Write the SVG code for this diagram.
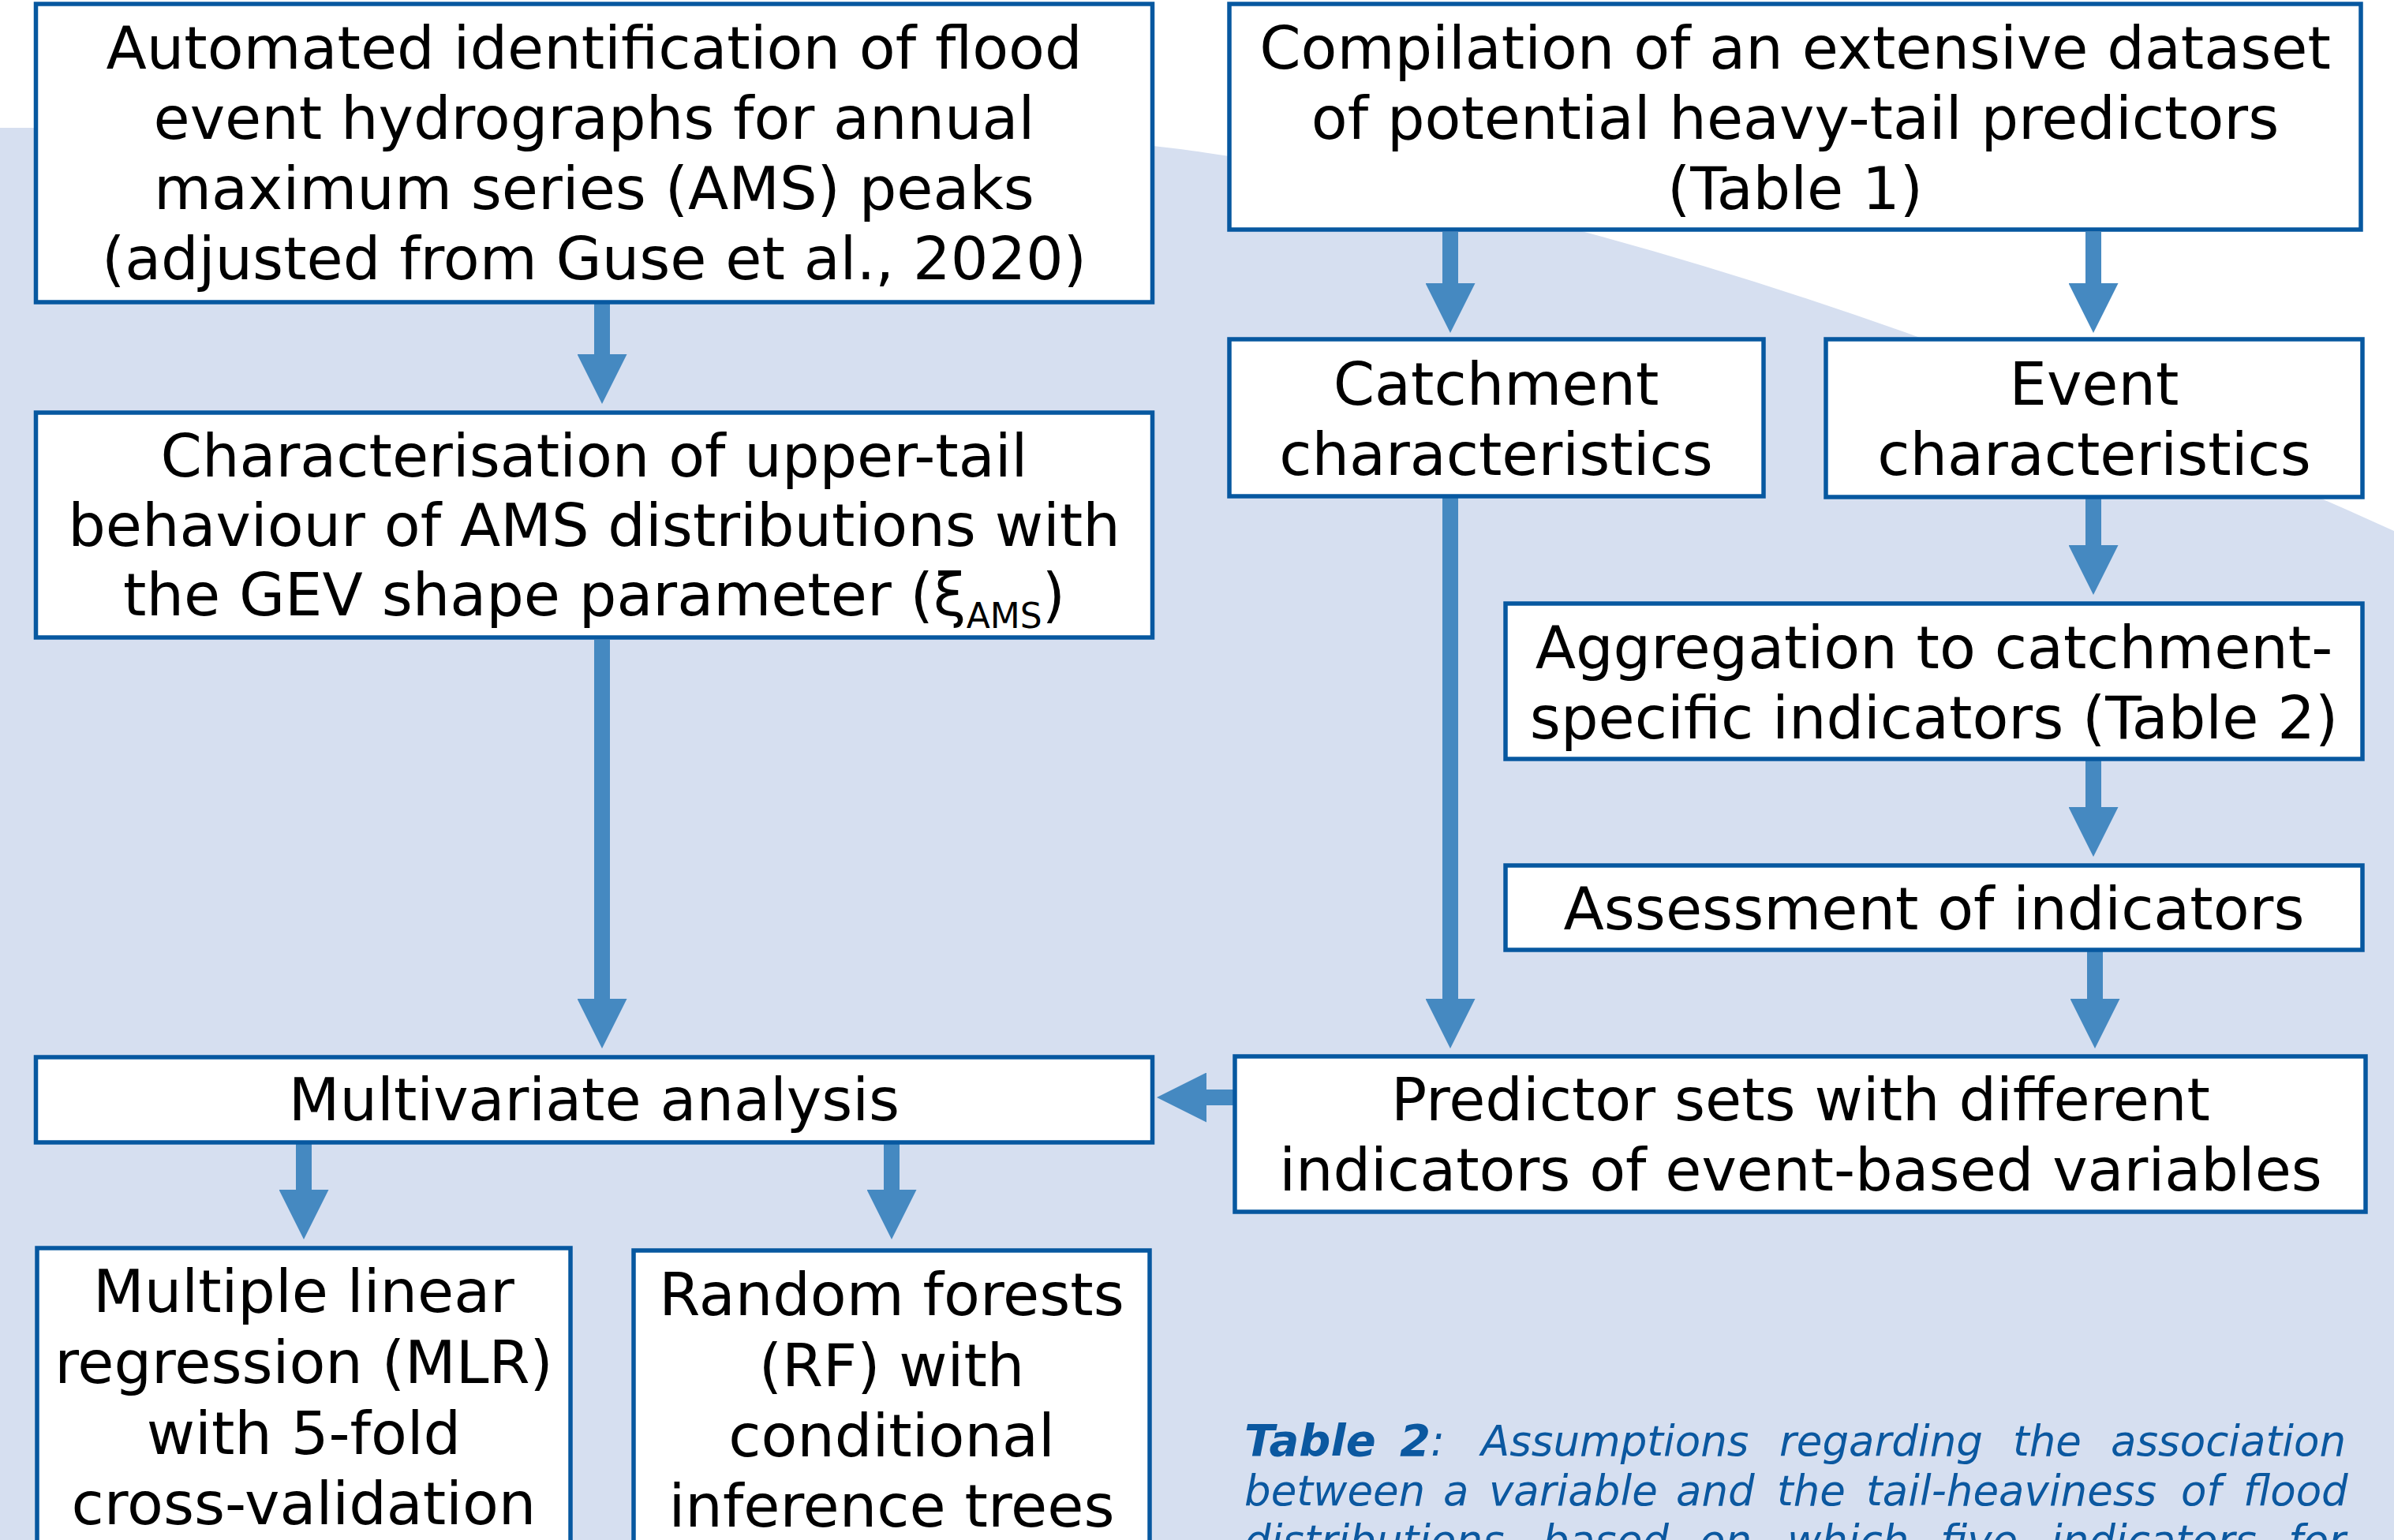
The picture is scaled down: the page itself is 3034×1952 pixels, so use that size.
<svg xmlns="http://www.w3.org/2000/svg" width="3034" height="1952" viewBox="0 0 3034 1952">
<style>
.box{fill:#ffffff;stroke:#0758a0;stroke-width:5.5}
.t{font-family:"DejaVu Sans",Verdana,sans-serif;font-size:75px;fill:#000000;text-anchor:middle}
.sub{font-size:44px}
.conn{stroke:#4589c1;stroke-width:20;fill:none;marker-end:url(#ah)}
.cap{font-family:"DejaVu Sans",Verdana,sans-serif;font-size:53px;font-style:italic;fill:#0b58a0}
.capb{font-weight:bold;font-size:56px}
</style>
<defs>
<marker id="ah" markerUnits="userSpaceOnUse" markerWidth="63" markerHeight="63" viewBox="0 0 63 63" refX="0" refY="31.5" orient="auto">
<path d="M0,0 L63,31.5 L0,63 Z" fill="#4589c1"/>
</marker>
</defs>
<rect x="0" y="0" width="3034" height="1952" fill="#ffffff"/>
<path d="M0,162 C500,162 1210,149 1510,191 C2018,262 2526,444 3034,673 L3034,1952 L0,1952 Z" fill="#d6dff0"/>

<g id="connectors">
<line class="conn" x1="763" y1="385" x2="763" y2="449"/>
<line class="conn" x1="763" y1="811" x2="763" y2="1266"/>
<line class="conn" x1="385" y1="1448" x2="385" y2="1508"/>
<line class="conn" x1="1130" y1="1448" x2="1130" y2="1508"/>
<line class="conn" x1="1838" y1="294" x2="1838" y2="359"/>
<line class="conn" x1="2653" y1="294" x2="2653" y2="359"/>
<line class="conn" x1="1838" y1="631" x2="1838" y2="1266"/>
<line class="conn" x1="2653" y1="631" x2="2653" y2="691"/>
<line class="conn" x1="2653" y1="964" x2="2653" y2="1023"/>
<line class="conn" x1="2655" y1="1206" x2="2655" y2="1266"/>
<line class="conn" x1="1564" y1="1391" x2="1529" y2="1391"/>
</g>

<g id="n1">
<rect class="box" x="45.5" y="5" width="1415" height="378"/>
<text class="t" x="753" y="87">Automated identification of flood</text>
<text class="t" x="753" y="176">event hydrographs for annual</text>
<text class="t" x="753" y="265">maximum series (AMS) peaks</text>
<text class="t" x="753" y="354">(adjusted from Guse et al., 2020)</text>
</g>
<g id="n2">
<rect class="box" x="45.5" y="523" width="1415" height="285"/>
<text class="t" x="753" y="604">Characterisation of upper-tail</text>
<text class="t" x="753" y="692">behaviour of AMS distributions with</text>
<text class="t" x="753" y="780">the GEV shape parameter (ξ<tspan class="sub" dy="16">AMS</tspan><tspan dy="-16">)</tspan></text>
</g>
<g id="n3">
<rect class="box" x="45.5" y="1340" width="1415" height="108"/>
<text class="t" x="753" y="1420">Multivariate analysis</text>
</g>
<g id="n4">
<rect class="box" x="47" y="1582" width="676" height="420"/>
<text class="t" x="385" y="1663">Multiple linear</text>
<text class="t" x="385" y="1753">regression (MLR)</text>
<text class="t" x="385" y="1843">with 5-fold</text>
<text class="t" x="385" y="1932">cross-validation</text>
</g>
<g id="n5">
<rect class="box" x="803" y="1585" width="654" height="420"/>
<text class="t" x="1130" y="1667">Random forests</text>
<text class="t" x="1130" y="1757">(RF) with</text>
<text class="t" x="1130" y="1846">conditional</text>
<text class="t" x="1130" y="1935">inference trees</text>
</g>
<g id="n6">
<rect class="box" x="1558" y="5" width="1434" height="286"/>
<text class="t" x="2275" y="87">Compilation of an extensive dataset</text>
<text class="t" x="2275" y="176">of potential heavy-tail predictors</text>
<text class="t" x="2275" y="265">(Table 1)</text>
</g>
<g id="n7">
<rect class="box" x="1558" y="430" width="677" height="199"/>
<text class="t" x="1896" y="513">Catchment</text>
<text class="t" x="1896" y="602">characteristics</text>
</g>
<g id="n8">
<rect class="box" x="2314" y="430" width="680" height="200"/>
<text class="t" x="2654" y="513">Event</text>
<text class="t" x="2654" y="602">characteristics</text>
</g>
<g id="n9">
<rect class="box" x="1908" y="765" width="1086" height="197"/>
<text class="t" x="2451" y="847">Aggregation to catchment-</text>
<text class="t" x="2451" y="936">specific indicators (Table 2)</text>
</g>
<g id="n10">
<rect class="box" x="1908" y="1097" width="1086" height="107"/>
<text class="t" x="2451" y="1178">Assessment of indicators</text>
</g>
<g id="n11">
<rect class="box" x="1565" y="1339" width="1433" height="197"/>
<text class="t" x="2282" y="1420">Predictor sets with different</text>
<text class="t" x="2282" y="1509">indicators of event-based variables</text>
</g>

<g id="caption">
<text class="cap" y="1845"><tspan class="capb" x="1577">Table</tspan><tspan class="capb" x="1774">2</tspan><tspan>:</tspan><tspan x="1877">Assumptions</tspan><tspan x="2255">regarding</tspan><tspan x="2551">the</tspan><tspan x="2675">association</tspan></text>
<text class="cap" y="1908"><tspan x="1577">between</tspan><tspan x="1829">a</tspan><tspan x="1887">variable</tspan><tspan x="2124">and</tspan><tspan x="2252">the</tspan><tspan x="2365">tail-heaviness</tspan><tspan x="2764">of</tspan><tspan x="2843">flood</tspan></text>
<text class="cap" y="1971"><tspan x="1577">distributions</tspan><tspan x="1955">based</tspan><tspan x="2154">on</tspan><tspan x="2265">which</tspan><tspan x="2459">five</tspan><tspan x="2599">indicators</tspan><tspan x="2900">for</tspan></text>
</g>
</svg>
